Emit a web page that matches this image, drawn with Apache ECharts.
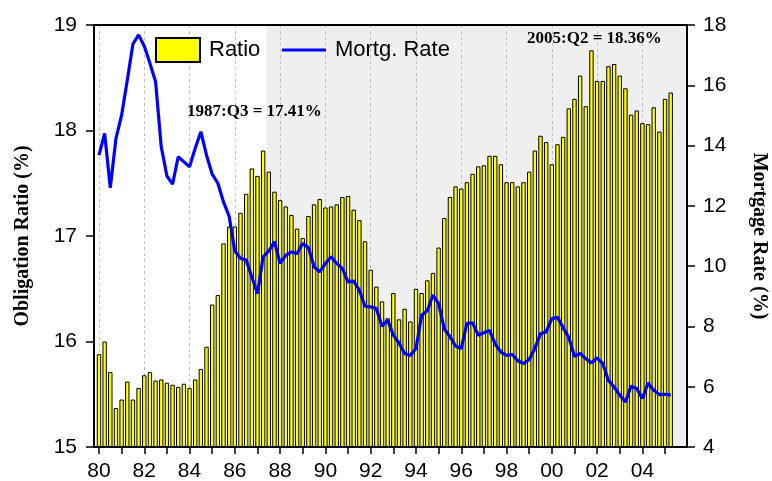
<!DOCTYPE html>
<html>
<head>
<meta charset="utf-8">
<script src="https://cdn.jsdelivr.net/npm/echarts@6/dist/echarts.min.js"></script>
<style>
html, body { margin: 0; padding: 0; background: #fff; }
#graphContainer { width: 772px; height: 481px; }
</style>
</head>
<body>
<div id="graphContainer"></div>
<script>
// quarterly, 1980:Q1 .. 2005:Q2
var startYear = 1980;
var ratio = [
	15.88, 16.00, 15.71, 15.37, 15.45, 15.62, 15.45, 15.56, 15.68, 15.71,
	15.63, 15.64, 15.61, 15.59, 15.57, 15.60, 15.56, 15.64, 15.74, 15.95,
	16.35, 16.44, 16.93, 17.09, 17.09, 17.22, 17.40, 17.64, 17.57, 17.81,
	17.61, 17.42, 17.34, 17.28, 17.20, 17.07, 16.98, 17.19, 17.30, 17.35,
	17.27, 17.28, 17.30, 17.37, 17.38, 17.25, 17.15, 16.95, 16.68, 16.52,
	16.38, 16.22, 16.46, 16.21, 16.31, 16.19, 16.50, 16.46, 16.58, 16.65,
	16.89, 17.17, 17.37, 17.47, 17.45, 17.51, 17.59, 17.66, 17.67, 17.76,
	17.76, 17.68, 17.51, 17.51, 17.47, 17.51, 17.61, 17.81, 17.95, 17.89,
	17.68, 17.87, 17.94, 18.21, 18.30, 18.52, 18.23, 18.76, 18.47, 18.47,
	18.61, 18.63, 18.52, 18.40, 18.15, 18.19, 18.07, 18.06, 18.22, 17.99,
	18.30, 18.36
];
var mortgRate = [
	13.68, 14.40, 12.60, 14.24, 15.01, 16.17, 17.37, 17.67, 17.30, 16.73,
	16.12, 13.96, 12.99, 12.72, 13.63, 13.46, 13.30, 13.91, 14.46, 13.68,
	13.05, 12.75, 12.13, 11.65, 10.50, 10.26, 10.20, 9.64, 9.09, 10.31,
	10.50, 10.81, 10.09, 10.36, 10.47, 10.42, 10.75, 10.62, 9.98, 9.81,
	10.09, 10.31, 10.09, 9.92, 9.48, 9.50, 9.20, 8.67, 8.65, 8.59,
	8.01, 8.21, 7.71, 7.45, 7.10, 7.04, 7.27, 8.37, 8.52, 9.04,
	8.76, 7.92, 7.66, 7.35, 7.27, 8.10, 8.12, 7.71, 7.79, 7.87,
	7.41, 7.15, 7.04, 7.07, 6.86, 6.77, 6.90, 7.27, 7.76, 7.82,
	8.26, 8.30, 7.96, 7.63, 7.01, 7.10, 6.93, 6.79, 6.95, 6.77,
	6.21, 5.99, 5.72, 5.49, 6.02, 5.94, 5.61, 6.12, 5.88, 5.74,
	5.75, 5.72
];
var tickYears = [1980, 1981, 1982, 1983, 1984, 1985, 1986, 1987, 1988, 1989,
	1990, 1991, 1992, 1993, 1994, 1995, 1996, 1997, 1998, 1999,
	2000, 2001, 2002, 2003, 2004, 2005];
var labelYears = [1980, 1982, 1984, 1986, 1988, 1990, 1992, 1994, 1996, 1998, 2000, 2002, 2004];
var shadeFrom = 1987.375; // from 1987:Q3 on
var notes = ['1987:Q3 = 17.41%', '2005:Q2 = 18.36%'];

var sansFont = '"Liberation Sans", Arial, sans-serif';
var serifFont = '"Liberation Serif", "Times New Roman", serif';
var xMin = 1979.78, xMax = 2005.97;

function toPairs(values) {
	var out = [];
	for (var i = 0; i < values.length; i++) {
		out.push([startYear + i / 4, values[i]]);
	}
	return out;
}

var myEChart = echarts.init(document.getElementById('graphContainer'), null, { renderer: 'canvas' });

var option = {
	animation: false,
	backgroundColor: '#fff',
	grid: {
		left: 94, right: 85, top: 25, bottom: 34,
		show: true,
		z: 6,
		backgroundColor: 'rgba(0,0,0,0)',
		borderColor: '#000',
		borderWidth: 2,
		outerBoundsMode: 'none'
	},
	legend: {
		left: 150, top: 32,
		itemWidth: 44, itemHeight: 24, itemGap: 20,
		textStyle: { fontSize: 22, color: '#000', fontFamily: sansFont, padding: [0, 0, 0, 4] },
		data: [
			{ name: 'Ratio', icon: 'rect' },
			{ name: 'Mortg. Rate', itemStyle: { opacity: 0 }, lineStyle: { width: 3.2, color: '#0000ff' } }
		]
	},
	xAxis: [
		{
			type: 'value',
			min: xMin, max: xMax,
			z: 5,
			axisLine: { lineStyle: { color: '#000', width: 2 } },
			axisTick: { customValues: tickYears, length: 7, lineStyle: { color: '#000', width: 1.5 } },
			axisLabel: {
				customValues: labelYears,
				margin: 14,
				fontSize: 21, color: '#000', fontFamily: sansFont,
				formatter: function (value) { return String(value).slice(2); }
			},
			splitLine: { show: false }
		},
		{
			type: 'value',
			position: 'top',
			min: xMin, max: xMax,
			z: 2,
			axisLine: { show: false },
			axisTick: { show: false, customValues: labelYears },
			axisLabel: { show: false },
			splitLine: { show: true, lineStyle: { color: '#bdbdbd', type: [3, 3], width: 1 } }
		}
	],
	yAxis: [
		{
			type: 'value',
			min: 15, max: 19, interval: 1,
			z: 5,
			name: 'Obligation Ratio (%)',
			nameLocation: 'middle',
			nameGap: 61,
			nameTextStyle: { fontSize: 20, fontWeight: 'bold', fontFamily: serifFont, color: '#000' },
			axisLine: { show: true, lineStyle: { color: '#000', width: 2 } },
			axisTick: { show: true, length: 8, lineStyle: { color: '#000', width: 1.5 } },
			axisLabel: { margin: 17, fontSize: 21, color: '#000', fontFamily: sansFont },
			splitLine: { show: false }
		},
		{
			type: 'value',
			min: 4, max: 18, interval: 2,
			z: 5,
			position: 'right',
			name: 'Mortgage Rate (%)',
			nameLocation: 'middle',
			nameRotate: -90,
			nameGap: 62,
			nameTextStyle: { fontSize: 20, fontWeight: 'bold', fontFamily: serifFont, color: '#000' },
			axisLine: { show: true, lineStyle: { color: '#000', width: 2 } },
			axisTick: { show: true, length: 8, lineStyle: { color: '#000', width: 1.5 } },
			axisLabel: { margin: 16, fontSize: 21, color: '#000', fontFamily: sansFont },
			splitLine: { show: false }
		}
	],
	series: [
		{
			name: 'shade',
			type: 'line',
			data: [],
			xAxisIndex: 0,
			yAxisIndex: 0,
			silent: true,
			markArea: {
				z: 1,
				silent: true,
				itemStyle: { color: '#efefef' },
				data: [[{ xAxis: shadeFrom }, { xAxis: xMax }]]
			}
		},
		{
			name: 'Ratio',
			type: 'bar',
			z: 3,
			xAxisIndex: 0,
			yAxisIndex: 0,
			barWidth: 4.4,
			data: toPairs(ratio),
			itemStyle: { color: '#ffff00', borderColor: '#000', borderWidth: 1 }
		},
		{
			name: 'Mortg. Rate',
			type: 'line',
			z: 4,
			xAxisIndex: 0,
			yAxisIndex: 1,
			symbol: 'none',
			data: toPairs(mortgRate),
			itemStyle: { color: '#0000ff' },
			lineStyle: { color: '#0000ff', width: 3.2 }
		}
	],
	graphic: [
		{
			type: 'text', left: 187, top: 103, z: 10,
			style: { text: notes[0], font: 'bold 17px ' + serifFont, fill: '#000' }
		},
		{
			type: 'text', left: 527, top: 30, z: 10,
			style: { text: notes[1], font: 'bold 17px ' + serifFont, fill: '#000' }
		}
	]
};

myEChart.setOption(option);
</script>
</body>
</html>
